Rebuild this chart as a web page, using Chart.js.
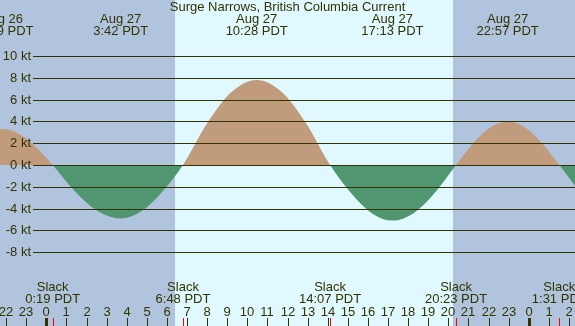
<!DOCTYPE html>
<html>
<head>
<meta charset="utf-8">
<script src="https://cdn.jsdelivr.net/npm/chart.js@4/dist/chart.umd.min.js"></script>
<style>
  html, body { margin: 0; padding: 0; background: #b0c4de; }
  #chart { display: block; }
</style>
</head>
<body>
<canvas id="chart" width="575" height="326"></canvas>
<script>
// hours since midnight Aug 27 (PDT) and current speed in knots
const hours = [-2.9, -2.18, -1.35, -0.52, 0.317, 1.445, 2.572, 3.7, 4.733, 5.767, 6.8, 8.022, 9.244, 10.467,
    11.683, 12.9, 14.117, 15.15, 16.183, 17.217, 18.272, 19.328, 20.383, 21.239, 22.094, 22.95,
    23.806, 24.661, 25.517, 26.58, 27.6];
const knots = [3.15, 3.3, 2.85, 1.65, 0, -2.45, -4.24, -4.9, -4.24, -2.45, 0, 3.9, 6.75, 7.8,
    6.75, 3.9, 0, -2.55, -4.42, -5.1, -4.42, -2.55, 0, 2.0, 3.46, 4.0,
    3.46, 2.0, 0, -2.5, -4.3];

// max / min current labels along the top
const peakHours = [-2.18, 3.7, 10.467, 17.217, 22.95];
const peakDays = ['Aug 26', 'Aug 27', 'Aug 27', 'Aug 27', 'Aug 27'];
const peakTimes = ['21:49 PDT', '3:42 PDT', '10:28 PDT', '17:13 PDT', '22:57 PDT'];

// slack water labels along the bottom
const slackHours = [0.317, 6.8, 14.117, 20.383, 25.517];
const slackTimes = ['0:19 PDT', '6:48 PDT', '14:07 PDT', '20:23 PDT', '1:31 PDT'];

// daylight
const sunrise = 6.40;
const sunset = 20.23;

const yTicks = [10, 8, 6, 4, 2, 0, -2, -4, -6, -8];
const hourTicks = [-2, -1, 0, 1, 2, 3, 4, 5, 6, 7, 8, 9, 10, 11, 12, 13, 14, 15, 16, 17, 18, 19, 20, 21, 22, 23, 24, 25, 26];

const ink = '#333300';
const font = '13px "Liberation Sans", Arial, sans-serif';

const points = hours.map((h, i) => ({ x: h, y: knots[i] }));

const tideDecor = {
    id: 'tideDecor',
    beforeDatasetsDraw(chart) {
        const { ctx, chartArea, scales } = chart;
        const x = scales.x;
        ctx.save();
        ctx.fillStyle = '#b0c4de';
        ctx.fillRect(chartArea.left, chartArea.top, chartArea.width, chartArea.height);
        const x1 = Math.round(x.getPixelForValue(sunrise));
        const x2 = Math.round(x.getPixelForValue(sunset));
        ctx.fillStyle = '#e0f8ff';
        ctx.fillRect(x1, chartArea.top, x2 - x1, chartArea.height);
        ctx.restore();
    },
    afterDatasetsDraw(chart) {
        const { ctx, chartArea, scales } = chart;
        const x = scales.x, y = scales.y;
        ctx.save();
        ctx.font = font;
        ctx.fillStyle = ink;
        ctx.strokeStyle = ink;
        ctx.lineWidth = 1;

        // speed grid lines and labels
        ctx.textAlign = 'right';
        ctx.textBaseline = 'middle';
        yTicks.forEach(v => {
            const py = Math.round(y.getPixelForValue(v)) + 0.5;
            ctx.beginPath();
            ctx.moveTo(33, py);
            ctx.lineTo(chartArea.right, py);
            ctx.stroke();
            ctx.fillText(v + ' kt', 31, py);
        });

        // title
        ctx.textAlign = 'center';
        ctx.fillText('Surge Narrows, British Columbia Current', chartArea.width / 2, 7);

        // peak labels
        peakHours.forEach((h, i) => {
            const px = x.getPixelForValue(h);
            ctx.fillText(peakDays[i], px, 19);
            ctx.fillText(peakTimes[i], px, 31);
        });

        // slack labels
        slackHours.forEach((h, i) => {
            const px = x.getPixelForValue(h);
            ctx.fillText('Slack', px, 287);
            ctx.fillText(slackTimes[i], px, 299);
        });

        // hour ticks and labels
        hourTicks.forEach(h => {
            const px = Math.round(x.getPixelForValue(h));
            const label = ((h % 24) + 24) % 24;
            ctx.fillText(String(label), px, 312);
            if (label === 0) {
                ctx.fillRect(px - 1, 318, 3, 8);
            } else {
                ctx.fillRect(px, 318, 1, 8);
            }
        });

        // slack markers
        ctx.fillStyle = '#ff0000';
        slackHours.forEach(h => {
            const px = Math.round(x.getPixelForValue(h));
            ctx.fillRect(px, 318, 1, 8);
        });
        ctx.restore();
    }
};

new Chart(document.getElementById('chart'), {
    type: 'line',
    data: {
        datasets: [{
            data: points,
            borderWidth: 0,
            borderColor: 'rgba(0,0,0,0)',
            pointRadius: 0,
            cubicInterpolationMode: 'monotone',
            fill: { target: 'origin', above: '#c09c7c', below: '#509670' }
        }]
    },
    options: {
        responsive: false,
        animation: false,
        layout: { padding: 0 },
        scales: {
            x: { type: 'linear', min: -2.303, max: 26.3, display: false },
            y: { min: -14.77, max: 15.14, display: false }
        },
        plugins: {
            legend: { display: false },
            tooltip: { enabled: false }
        }
    },
    plugins: [tideDecor]
});
</script>
</body>
</html>
